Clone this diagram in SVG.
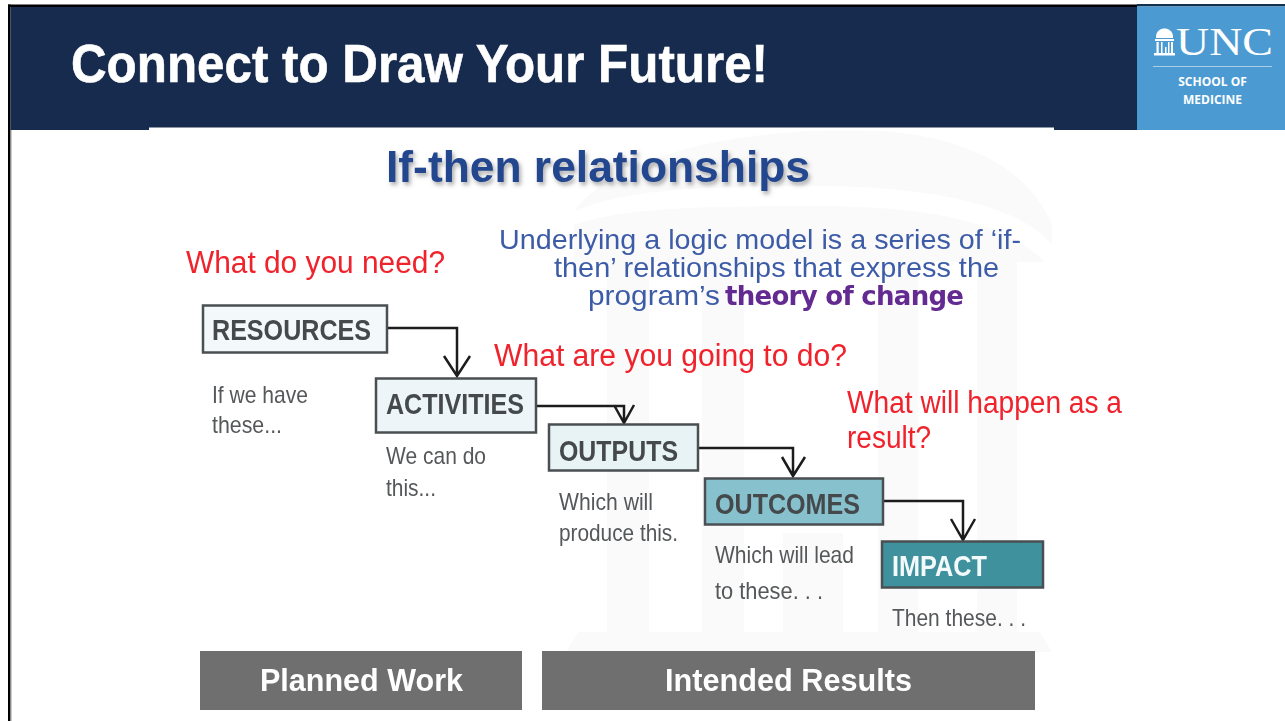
<svg xmlns="http://www.w3.org/2000/svg" width="1285" height="721" viewBox="0 0 1285 721">
<style>
text{font-family:"Liberation Sans",Arial,sans-serif}
.box{stroke:#4a4f52;stroke-width:2.5}
.lbl{font-size:30px;font-weight:700;fill:#44494c;filter:url(#soft)}
.note{font-size:24px;fill:#55585a;filter:url(#soft)}
.q{font-size:31px;fill:#f0202c;filter:url(#soft)}
.blue{font-size:28px;fill:#3e5ca8;filter:url(#soft)}
.band{fill:#6f6f6f}
.bandt{font-size:32px;font-weight:700;fill:#fff;filter:url(#soft)}
.conn{fill:none;stroke:#1c1c1c;stroke-width:2.5}
.wm{fill:#fafafa}
</style>
<defs>
<filter id="sh" x="-5%" y="-20%" width="110%" height="150%"><feDropShadow dx="2" dy="3" stdDeviation="2" flood-color="#555" flood-opacity=".5"/></filter>
<filter id="soft" x="-2%" y="-10%" width="104%" height="120%"><feGaussianBlur stdDeviation="0.4"/></filter>
</defs>
<rect width="1285" height="721" fill="#fff"/>
<g id="watermark">
<path class="wm" d="M574 212C610 160 720 130 850 130C950 130 1025 160 1052 225V245C1020 205 930 186 815 186C700 186 620 190 574 212Z"/>
<path class="wm" d="M574 225C620 208 700 206 815 206C930 206 1005 222 1045 262H574Z"/>
<rect class="wm" x="607" y="262" width="42" height="370"/>
<rect class="wm" x="702" y="262" width="42" height="370"/>
<rect class="wm" x="783" y="533" width="60" height="100"/>
<rect class="wm" x="878" y="262" width="40" height="370"/>
<rect class="wm" x="977" y="262" width="40" height="370"/>
<path class="wm" d="M578 632H1040L1052 652H566Z"/>
</g>
<g id="header">
<rect x="8" y="4.500" width="1129" height="2.500" fill="#000"/>
<rect x="1137" y="4" width="148" height="2.500" fill="#14304f"/>
<rect x="8" y="4.500" width="2.500" height="716.500" fill="#000"/>
<rect x="10.500" y="130" width="1" height="591" fill="#999"/>
<rect x="10.500" y="7" width="1127" height="123" fill="#162b4d"/>
<rect x="149" y="127.500" width="905" height="3" fill="#fff"/>
<text x="71" y="82" font-size="54" font-weight="700" fill="#fff" stroke="#fff" stroke-width=".6" textLength="697" lengthAdjust="spacingAndGlyphs">Connect to Draw Your Future!</text>
</g>
<g id="logo">
<rect x="1137" y="6.500" width="148" height="123.500" fill="#4b9bd2"/>
<g fill="#fff">
<path d="M1156 36C1157 26 1172 26 1173 36V38H1156Z"/>
<rect x="1155" y="39" width="19" height="2"/>
<rect x="1156.500" y="42" width="2.200" height="11"/>
<rect x="1161" y="42" width="1.500" height="11"/>
<rect x="1165" y="47" width="1.500" height="6"/>
<rect x="1168" y="42" width="1.500" height="11"/>
<rect x="1171" y="42" width="2" height="11"/>
<rect x="1154" y="53" width="21" height="2.500"/>
</g>
<text x="1176" y="55" font-size="41" fill="#fff" style="font-family:'Liberation Serif',serif" textLength="97" lengthAdjust="spacingAndGlyphs">UNC</text>
<rect x="1153" y="66" width="119" height="1" fill="#a9cfea"/>
<text x="1212.500" y="86" font-size="12" font-weight="700" fill="#fff" text-anchor="middle" style="font-family:'Open Sans',sans-serif">SCHOOL OF</text>
<text x="1212.500" y="104" font-size="12" font-weight="700" fill="#fff" text-anchor="middle" style="font-family:'Open Sans',sans-serif">MEDICINE</text>
</g>
<g id="heading">
<text x="386" y="182" font-size="45" font-weight="700" fill="#22478f" filter="url(#sh)" textLength="424" lengthAdjust="spacingAndGlyphs">If-then relationships</text>
<text class="blue" x="499" y="249" textLength="522" lengthAdjust="spacingAndGlyphs">Underlying a logic model is a series of ‘if-</text>
<text class="blue" x="554" y="277" textLength="445" lengthAdjust="spacingAndGlyphs">then’ relationships that express the</text>
<text class="blue" x="588" y="305" textLength="132" lengthAdjust="spacingAndGlyphs">program’s</text>
<text x="725" y="305" font-size="26" font-weight="700" fill="#642a91" style="font-family:'DejaVu Sans',sans-serif;filter:url(#soft)" textLength="239" lengthAdjust="spacing">theory of change</text>
</g>
<g id="questions">
<text class="q" x="186" y="273" textLength="259" lengthAdjust="spacingAndGlyphs">What do you need?</text>
<text class="q" x="494" y="366" textLength="353" lengthAdjust="spacingAndGlyphs">What are you going to do?</text>
<text class="q" x="847" y="413" textLength="275" lengthAdjust="spacingAndGlyphs">What will happen as a</text>
<text class="q" x="847" y="448" textLength="84" lengthAdjust="spacingAndGlyphs">result?</text>
</g>
<g id="connectors">
<path class="conn" d="M387 328H457V376M444 356L457 376L470 356"/>
<path class="conn" d="M537 406H624V423M614 405L624 423L634 405"/>
<path class="conn" d="M698 448H793V476M782 457L793 476L805 457"/>
<path class="conn" d="M883 501H963V540M951 519L963 540L975 519"/>
</g>
<g id="resources">
<rect class="box" x="203" y="305.500" width="184" height="47" fill="#f3f8fb"/>
<text class="lbl" x="212" y="340" textLength="159" lengthAdjust="spacingAndGlyphs">RESOURCES</text>
<text class="note" x="212" y="403" textLength="96" lengthAdjust="spacingAndGlyphs">If we have</text>
<text class="note" x="212" y="433" textLength="70" lengthAdjust="spacingAndGlyphs">these...</text>
</g>
<g id="activities">
<rect class="box" x="376" y="378.500" width="160" height="54" fill="#edf5f8"/>
<text class="lbl" x="386" y="414" textLength="138" lengthAdjust="spacingAndGlyphs">ACTIVITIES</text>
<text class="note" x="386" y="464" textLength="100" lengthAdjust="spacingAndGlyphs">We can do</text>
<text class="note" x="386" y="496" textLength="50" lengthAdjust="spacingAndGlyphs">this...</text>
</g>
<g id="outputs">
<rect class="box" x="549" y="424.500" width="149" height="46" fill="#e8f3f5"/>
<text class="lbl" x="559" y="461" textLength="119" lengthAdjust="spacingAndGlyphs">OUTPUTS</text>
<text class="note" x="559" y="510" textLength="94" lengthAdjust="spacingAndGlyphs">Which will</text>
<text class="note" x="559" y="541" textLength="119" lengthAdjust="spacingAndGlyphs">produce this.</text>
</g>
<g id="outcomes">
<rect class="box" x="705" y="478.500" width="178" height="46" fill="#87c1cd"/>
<text class="lbl" x="715" y="514" textLength="145" lengthAdjust="spacingAndGlyphs">OUTCOMES</text>
<text class="note" x="715" y="563" textLength="139" lengthAdjust="spacingAndGlyphs">Which will lead</text>
<text class="note" x="715" y="599" textLength="108" lengthAdjust="spacingAndGlyphs">to these. . .</text>
</g>
<g id="impact">
<rect class="box" x="882" y="541.500" width="161" height="46" fill="#40919e"/>
<text class="lbl" x="892" y="576" style="fill:#f4fafb" textLength="95" lengthAdjust="spacingAndGlyphs">IMPACT</text>
<text class="note" x="892" y="626" textLength="134" lengthAdjust="spacingAndGlyphs">Then these. . .</text>
</g>
<g id="planned-work">
<rect class="band" x="200" y="651" width="322" height="59"/>
<text class="bandt" x="260" y="691" textLength="203" lengthAdjust="spacingAndGlyphs">Planned Work</text>
</g>
<g id="intended-results">
<rect class="band" x="542" y="651" width="493" height="59"/>
<text class="bandt" x="665" y="691" textLength="247" lengthAdjust="spacingAndGlyphs">Intended Results</text>
</g>
</svg>
